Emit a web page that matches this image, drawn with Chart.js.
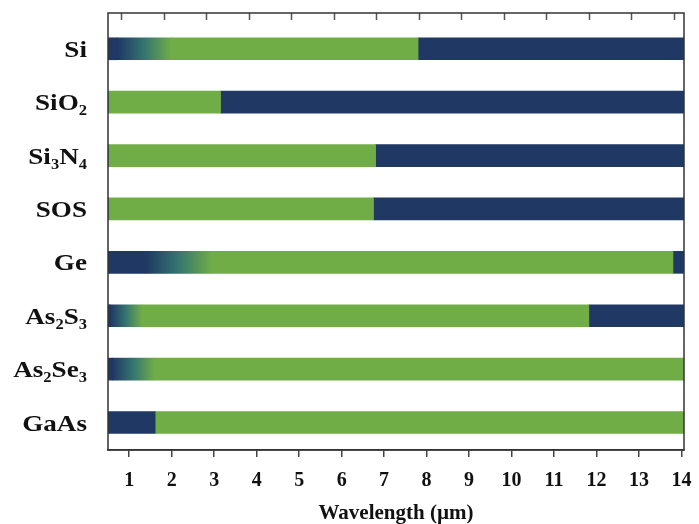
<!DOCTYPE html>
<html>
<head>
<meta charset="utf-8">
<title>Transparency windows of photonic materials</title>
<script src="https://cdn.jsdelivr.net/npm/chart.js@4/dist/chart.umd.min.js"></script>
<style>
  html, body { margin: 0; padding: 0; background: #ffffff; }
  #wrap { width: 699px; height: 524px; }
</style>
</head>
<body>
<div id="wrap"><canvas id="chart" width="699" height="524"></canvas></div>
<script>
// Materials, top to bottom ("_n" marks a subscript digit)
const materials = ['Si', 'SiO_2', 'Si_3N_4', 'SOS', 'Ge', 'As_2S_3', 'As_2Se_3', 'GaAs'];

// Wavelength range shown (µm)
const rangeStart = 0.5;
const rangeEnd = 14.06;

// End of the opaque short-wavelength band (µm)
const opaqueUntil = [0.72, 0.5, 0.5, 0.5, 1.38, 0.55, 0.6, 1.61];
// Start of full transparency (µm); between opaqueUntil and this the band fades
const transparentFrom = [2.0, 0.5, 0.5, 0.5, 2.95, 1.3, 1.6, 1.61];
// End of the transparency window (µm)
const transparentTo = [7.8, 3.15, 6.8, 6.75, 13.8, 11.82, 14.06, 14.06];

// Wavelength tick labels
const xTicks = [1, 2, 3, 4, 5, 6, 7, 8, 9, 10, 11, 12, 13, 14];

const NAVY = '#1f3864';
const GREEN = '#70ad47';
const SERIF = '"Liberation Serif", "Times New Roman", serif';

const rows = materials.map((_, i) => i);
const seg = (from, to) => rows.map(i => ({ x: [from[i], to[i]], y: i }));
const fill = v => rows.map(() => v);

function fadeColor(ctx) {
  const chart = ctx.chart;
  if (!chart.chartArea) return NAVY;
  const i = ctx.dataIndex;
  const xs = chart.scales.x;
  const x0 = xs.getPixelForValue(opaqueUntil[i]);
  const x1 = xs.getPixelForValue(transparentFrom[i]);
  if (x1 - x0 < 1) return GREEN;
  const g = chart.ctx.createLinearGradient(x0, 0, x1, 0);
  g.addColorStop(0, NAVY);
  g.addColorStop(0.5, '#357670');
  g.addColorStop(1, GREEN);
  return g;
}

// Frame around the plot, inward ticks on the top edge, formula labels with subscripts
const framePlugin = {
  id: 'frame',
  afterDraw(chart) {
    const { ctx, chartArea: a, scales } = chart;
    ctx.save();
    // top ticks
    ctx.strokeStyle = '#555555';
    ctx.lineWidth = 1.5;
    xTicks.forEach(v => {
      const px = Math.round(scales.xTop.getPixelForValue(v)) + 0.5;
      ctx.beginPath();
      ctx.moveTo(px, a.top);
      ctx.lineTo(px, a.top + 7);
      ctx.stroke();
    });
    // frame
    ctx.strokeStyle = '#333333';
    ctx.lineWidth = 1.5;
    ctx.strokeRect(a.left, a.top, a.right - a.left, a.bottom - a.top);

    // row labels
    const mainFont = 'bold 23px ' + SERIF;
    const subFont = 'bold 14px ' + SERIF;
    const rightX = 87;
    ctx.fillStyle = '#111111';
    ctx.textBaseline = 'alphabetic';
    ctx.textAlign = 'left';
    materials.forEach((name, i) => {
      const parts = [];
      for (let k = 0; k < name.length; k++) {
        if (name[k] === '_') { parts.push({ t: name[k + 1], sub: true }); k++; }
        else {
          const last = parts[parts.length - 1];
          if (last && !last.sub) last.t += name[k]; else parts.push({ t: name[k], sub: false });
        }
      }
      let total = 0;
      parts.forEach(p => { ctx.font = p.sub ? subFont : mainFont; p.w = ctx.measureText(p.t).width; total += p.w; });
      const y = scales.y.getPixelForValue(i);
      ctx.save();
      ctx.translate(rightX, y);
      ctx.scale(1.18, 1);
      let x = -total;
      parts.forEach(p => {
        ctx.font = p.sub ? subFont : mainFont;
        ctx.fillText(p.t, x, p.sub ? 13 : 8);
        x += p.w;
      });
      ctx.restore();
    });
    ctx.restore();
  }
};

new Chart(document.getElementById('chart'), {
  type: 'bar',
  data: {
    datasets: [
      { label: 'opaque (short)', data: seg(fill(rangeStart), opaqueUntil), backgroundColor: NAVY },
      { label: 'absorption edge', data: seg(opaqueUntil, transparentFrom), backgroundColor: fadeColor },
      { label: 'transparent', data: seg(transparentFrom, transparentTo), backgroundColor: GREEN },
      { label: 'opaque (long)', data: seg(transparentTo, fill(rangeEnd)), backgroundColor: NAVY }
    ]
  },
  options: {
    indexAxis: 'y',
    responsive: false,
    animation: false,
    devicePixelRatio: 1,
    layout: { padding: { top: 13, left: 108, right: 15, bottom: 0 } },
    datasets: { bar: { grouped: false, barThickness: 22, borderWidth: 0 } },
    plugins: { legend: { display: false }, tooltip: { enabled: false } },
    scales: {
      y: {
        type: 'linear',
        display: false,
        reverse: true,
        offset: false,
        min: -0.67,
        max: 7.515
      },
      x: {
        type: 'linear',
        position: 'bottom',
        min: rangeStart,
        max: rangeEnd,
        afterBuildTicks: s => { s.ticks = xTicks.map(v => ({ value: v })); },
        afterFit: s => { s.height = 74; s.paddingLeft = 0; s.paddingRight = 0; },
        grid: { drawOnChartArea: false, drawTicks: true, tickLength: 7, color: '#444444', lineWidth: 1.5 },
        border: { display: true, color: '#333333', width: 1.5 },
        ticks: {
          padding: 12,
          maxRotation: 0,
          autoSkip: false,
          color: '#111111',
          font: { family: SERIF, size: 20, weight: 'bold' },
          callback: v => String(v)
        },
        title: {
          display: true,
          text: 'Wavelength (µm)',
          color: '#111111',
          padding: 0,
          font: { family: SERIF, size: 21, weight: 'bold', lineHeight: 1 }
        }
      },
      xTop: {
        type: 'linear',
        position: 'top',
        display: false,
        min: rangeStart + 0.184,
        max: rangeEnd + 0.184
      }
    }
  },
  plugins: [framePlugin]
});
</script>
</body>
</html>
